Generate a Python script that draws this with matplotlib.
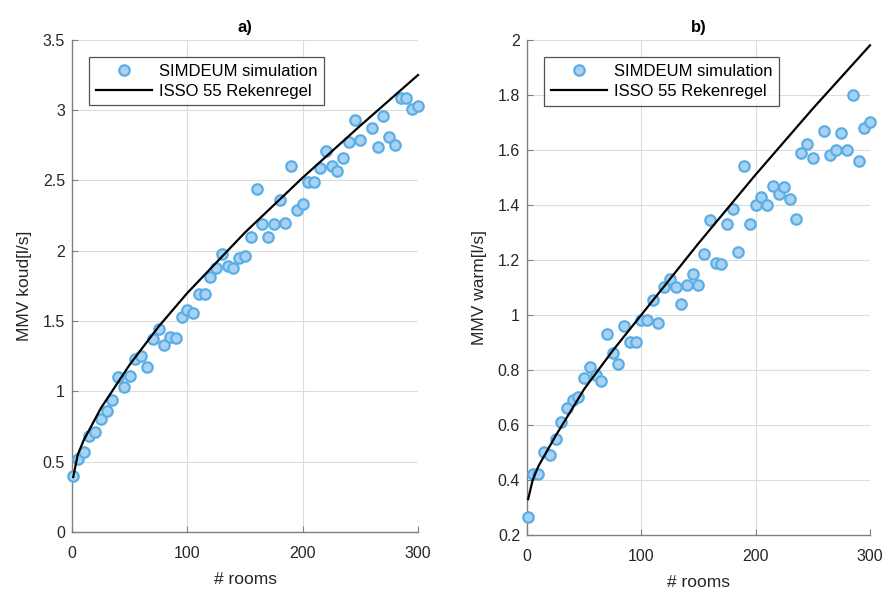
import numpy as np
import matplotlib
matplotlib.use("Agg")
import matplotlib.pyplot as plt

plt.rcParams['font.family'] = ['Liberation Sans', 'DejaVu Sans']

# number of rooms (x positions of the simulation points)
rooms = [1, 5, 10, 15, 20, 25, 30, 35, 40, 45, 50, 55, 60, 65, 70, 75, 80, 85, 90, 95,
         100, 105, 110, 115, 120, 125, 130, 135, 140, 145, 150, 155, 160, 165, 170, 175,
         180, 185, 190, 195, 200, 205, 210, 215, 220, 225, 230, 235, 240, 245, 250,
         260, 265, 270, 275, 280, 285, 290, 295, 300]

# SIMDEUM simulation, cold water [l/s]
sim_koud = [0.40, 0.52, 0.57, 0.68, 0.71, 0.80, 0.86, 0.94, 1.10, 1.03, 1.11, 1.23, 1.25, 1.17,
            1.37, 1.44, 1.33, 1.39, 1.38, 1.53, 1.58, 1.56, 1.69, 1.69, 1.81, 1.88, 1.98, 1.89,
            1.88, 1.95, 1.96, 2.10, 2.44, 2.19, 2.10, 2.19, 2.36, 2.20, 2.60, 2.29, 2.33, 2.49,
            2.49, 2.59, 2.71, 2.60, 2.57, 2.66, 2.77, 2.93, 2.79, 2.87, 2.74, 2.96, 2.81, 2.75,
            3.09, 3.09, 3.01, 3.03]

# SIMDEUM simulation, hot water [l/s]
sim_warm = [0.265, 0.42, 0.42, 0.50, 0.49, 0.55, 0.61, 0.66, 0.69, 0.70, 0.77, 0.81, 0.78, 0.76,
            0.93, 0.86, 0.82, 0.96, 0.90, 0.90, 0.98, 0.98, 1.055, 0.97, 1.10, 1.13, 1.10, 1.04,
            1.11, 1.15, 1.11, 1.22, 1.345, 1.19, 1.185, 1.33, 1.385, 1.23, 1.54, 1.33, 1.40, 1.43,
            1.40, 1.47, 1.44, 1.465, 1.42, 1.35, 1.59, 1.62, 1.57, 1.67, 1.58, 1.60, 1.66, 1.60,
            1.80, 1.56, 1.68, 1.70]

# ISSO 55 rekenregel
isso_rooms = [1, 5, 10, 25, 50, 75, 100, 150, 200, 250, 300]
isso_koud = [0.39, 0.55, 0.65, 0.88, 1.19, 1.46, 1.70, 2.13, 2.52, 2.89, 3.25]
isso_warm = [0.33, 0.40, 0.45, 0.56, 0.73, 0.87, 1.00, 1.26, 1.51, 1.75, 1.98]

fig = plt.figure(figsize=(8.86, 5.95), dpi=100)
ax1 = fig.add_axes([0.0813, 0.106, 0.3905, 0.827])
ax2 = fig.add_axes([0.5948, 0.101, 0.3871, 0.832])

face = '#a9d1f2'
edge = '#5aaee6'


def style(ax, sim, isso, ylim, yticks, ylabel, title):
    ax.plot(rooms, sim, 'o', ms=7.5, mfc=face, mec=edge, mew=1.6,
            label='SIMDEUM simulation', zorder=3, clip_on=False)
    ax.plot(isso_rooms, isso, '-', color='black', lw=1.6,
            label='ISSO 55 Rekenregel', zorder=4, clip_on=False)
    ax.set_xlim(0, 300)
    ax.set_ylim(*ylim)
    ax.set_xticks([0, 100, 200, 300])
    ax.set_yticks(yticks)
    ax.set_yticklabels([('%g' % t) for t in yticks])
    ax.grid(True, color='#dcdcdc', lw=0.8)
    ax.set_axisbelow(True)
    for s in ['top', 'right']:
        ax.spines[s].set_visible(False)
    for s in ['left', 'bottom']:
        ax.spines[s].set_color('#7f7f7f')
        ax.spines[s].set_linewidth(1.0)
    ax.tick_params(direction='in', length=4, color='#7f7f7f', labelsize=11.5,
                   labelcolor='#262626', pad=5)
    ax.tick_params(axis='x', pad=10)
    ax.set_xlabel('# rooms', fontsize=12.5, color='#262626', labelpad=8)
    ax.set_ylabel(ylabel, fontsize=12.5, color='#262626', labelpad=8)
    ax.set_title(title, fontsize=12, fontweight='bold', pad=6)
    leg = ax.legend(loc='upper left', bbox_to_anchor=(0.035, 0.975), fontsize=12,
                    frameon=True, fancybox=False, borderpad=0.4, handlelength=3.4,
                    labelspacing=0.3, handletextpad=0.4, borderaxespad=0.3)
    leg.get_frame().set_edgecolor('#262626')
    leg.get_frame().set_linewidth(0.9)


style(ax1, sim_koud, isso_koud, (0, 3.5), [0, 0.5, 1, 1.5, 2, 2.5, 3, 3.5],
      'MMV koud[l/s]', 'a)')
style(ax2, sim_warm, isso_warm, (0.2, 2.0),
      [0.2, 0.4, 0.6, 0.8, 1.0, 1.2, 1.4, 1.6, 1.8, 2.0], 'MMV warm[l/s]', 'b)')

fig.savefig('out.png', dpi=100)
